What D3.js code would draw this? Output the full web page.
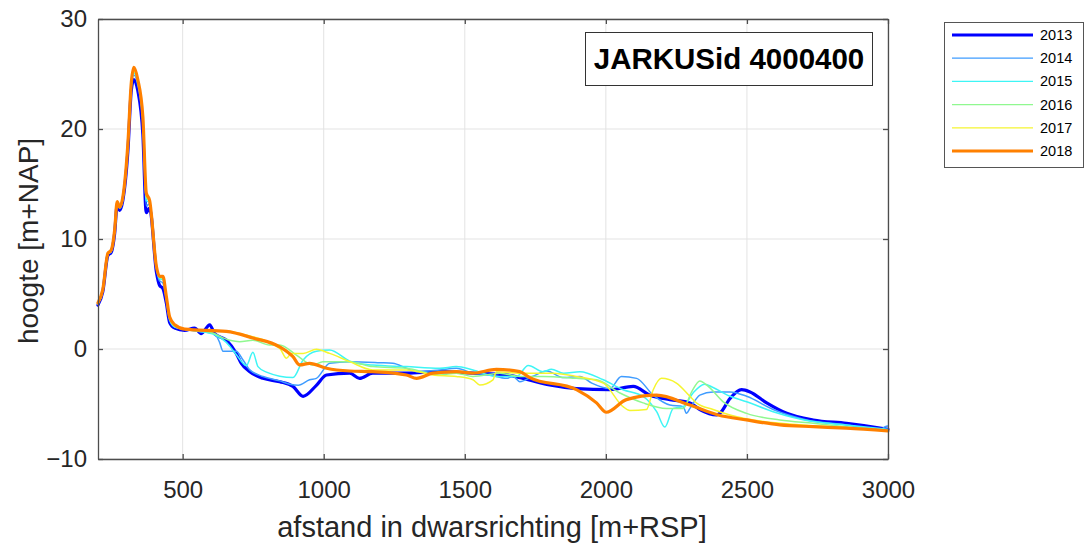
<!DOCTYPE html>
<html>
<head>
<meta charset="utf-8">
<style>
 body { margin: 0; background: #fff; }
 svg { font-family: "Liberation Sans", Arial, sans-serif; }
 .grid line { stroke: #e3e3e3; stroke-width: 1px; }
 .tick text { fill: #262626; }
</style>
</head>
<body>
<svg width="1089" height="548"></svg>
<script src="https://d3js.org/d3.v7.min.js"></script>
<script>

var years = ["2013", "2014", "2015", "2016", "2017", "2018"];
var colors = ["#0000ff", "#3f9cff", "#3ef5f5", "#90f890", "#f5f530", "#ff8000"];
var widths = [3.2, 1.5, 1.5, 1.5, 1.5, 3.2];

var xTicks = [500, 1000, 1500, 2000, 2500, 3000];
var yTicks = [-10, 0, 10, 20, 30];

// dune part (nearly equal for all years)
var duneX = [200, 217, 235, 247, 259, 268, 277, 288, 306, 318, 327, 341, 359, 371, 383, 407, 418, 430, 442, 454, 472, 507];

var x2013 = duneX.concat([542, 566, 596, 613, 655, 690, 708, 738, 785, 844, 891, 927, 974, 1010, 1092, 1127, 1174, 1293, 1411, 1529, 1648, 1707, 1801, 1896, 2014, 2097, 2156, 2227, 2298, 2333, 2393, 2404, 2440, 2481, 2511, 2570, 2641, 2735, 2853, 3000]);
var y2013 = [4.0, 5.2, 8.5, 8.8, 10.5, 13.1, 12.6, 13.5, 18.0, 23.5, 24.5, 23.5, 19.5, 12.4, 12.8, 7.0, 5.8, 5.5, 4.2, 2.4, 1.9, 1.7,
  1.9, 1.4, 2.2, 1.4, 0.8, -0.4, -1.3, -2.06, -2.67, -2.97, -3.4, -4.3, -3.3, -2.36, -2.2, -2.67, -2.2, -2.2, -2.06, -2.2, -2.36, -2.67, -3.27, -3.6, -3.7, -3.4, -4.2, -4.6, -4.9, -5.5, -6.0, -5.85, -4.5, -3.7, -3.9, -4.9, -5.85, -6.45, -6.75, -7.3];

var x2014 = duneX.concat([560, 613, 631, 643, 690, 714, 738, 785, 844, 880, 910, 950, 974, 1021, 1092, 1198, 1245, 1293, 1329, 1411, 1470, 1529, 1588, 1648, 1671, 1695, 1740, 1790, 1850, 1908, 1950, 2014, 2055, 2109, 2168, 2227, 2274, 2286, 2298, 2333, 2380, 2440, 2499, 2593, 2712, 2853, 2971, 2990, 3000]);
var y2014 = [4.1, 5.3, 8.6, 8.9, 10.7, 13.2, 12.8, 13.6, 18.4, 23.8, 24.9, 24.0, 20.5, 13.0, 13.2, 7.3, 6.2, 6.0, 4.5, 2.6, 2.0, 1.8,
  1.6, 1.4, 0.6, -0.2, -0.2, -1.0, -1.9, -2.5, -2.9, -3.2, -3.3, -2.8, -2.67, -1.3, -1.15, -1.24, -1.3, -1.75, -2.06, -1.9, -1.75, -2.2, -2.36, -2.67, -2.5, -2.97, -2.5, -2.0, -2.6, -2.5, -3.1, -3.6, -2.5, -2.67, -4.2, -5.1, -5.24, -5.85, -5.4, -4.2, -3.9, -3.9, -4.3, -5.5, -6.45, -6.9, -7.36, -7.06, -7.0];

var x2015 = duneX.concat([560, 613, 655, 690, 726, 749, 767, 797, 891, 927, 974, 1021, 1092, 1116, 1174, 1293, 1411, 1470, 1529, 1612, 1683, 1725, 1778, 1807, 1850, 1908, 1991, 2061, 2132, 2180, 2209, 2239, 2274, 2309, 2350, 2380, 2440, 2499, 2593, 2735, 2853, 3000]);
var y2015 = [4.1, 5.3, 8.6, 8.9, 10.7, 13.2, 12.8, 13.6, 18.5, 24.0, 25.1, 24.2, 20.8, 13.5, 13.3, 7.4, 6.4, 6.3, 4.6, 2.7, 2.0, 1.8,
  1.6, 1.3, 0.6, -0.5, -1.5, -0.3, -1.6, -2.1, -2.6, -1.0, -0.2, -0.1, -1.1, -1.3, -1.45, -1.6, -1.75, -1.6, -1.9, -2.5, -2.5, -1.5, -2.06, -1.85, -2.2, -2.06, -2.8, -3.7, -4.3, -5.7, -7.1, -5.4, -5.24, -4.0, -3.2, -3.5, -4.3, -4.8, -5.7, -6.6, -6.9, -7.3];

var x2016 = duneX.concat([600, 667, 702, 749, 808, 844, 903, 962, 997, 1092, 1174, 1293, 1411, 1470, 1529, 1624, 1695, 1778, 1896, 1967, 2050, 2132, 2215, 2274, 2304, 2333, 2363, 2416, 2499, 2617, 2735, 2853, 3000]);
var y2016 = [4.1, 5.3, 8.6, 8.9, 10.7, 13.3, 12.9, 13.7, 18.6, 24.1, 25.2, 24.3, 21.0, 13.8, 13.4, 7.5, 6.5, 6.4, 4.7, 2.8, 2.1, 1.8,
  1.5, 0.8, 0.67, 0.8, 0.36, 0.36, -0.55, -1.45, -1.15, -1.15, -1.6, -1.75, -2.36, -2.2, -2.5, -2.2, -2.5, -2.5, -2.67, -2.8, -4.0, -4.9, -5.4, -5.4, -3.9, -2.9, -3.4, -4.8, -5.85, -6.45, -6.75, -7.06, -7.4];

var x2017 = duneX.concat([600, 667, 702, 844, 868, 885, 927, 974, 1021, 1092, 1174, 1293, 1387, 1470, 1529, 1553, 1600, 1612, 1695, 1730, 1813, 1896, 1991, 2061, 2085, 2144, 2168, 2197, 2250, 2298, 2321, 2380, 2440, 2558, 2700, 2853, 3000]);
var y2017 = [4.1, 5.3, 8.6, 8.9, 10.7, 13.3, 12.9, 13.7, 18.6, 24.1, 25.3, 24.4, 21.0, 14.0, 13.4, 7.5, 6.6, 6.5, 4.8, 2.8, 2.1, 1.8,
  1.7, 1.6, 1.4, 0.06, -0.85, -0.4, -0.4, -0.03, -0.4, -1.15, -1.9, -1.9, -2.36, -2.5, -2.8, -3.27, -2.8, -2.06, -2.2, -2.2, -2.2, -2.5, -3.1, -5.24, -5.6, -5.5, -3.7, -2.67, -3.1, -4.3, -4.9, -5.5, -6.0, -6.6, -6.9, -7.15, -7.45];

var x2018 = duneX.concat([655, 749, 844, 891, 915, 950, 1010, 1092, 1174, 1293, 1329, 1387, 1470, 1529, 1612, 1695, 1730, 1896, 1967, 2002, 2073, 2180, 2298, 2398, 2499, 2617, 2735, 2853, 3000]);
var y2018 = [4.2, 5.4, 8.7, 9.0, 10.8, 13.4, 12.9, 13.8, 18.7, 24.2, 25.6, 24.5, 21.1, 14.2, 13.5, 7.5, 6.6, 6.6, 4.8, 2.9, 2.2, 1.8,
  1.6, 1.0, 0.2, -0.7, -1.45, -1.3, -1.75, -2.0, -2.06, -2.36, -2.67, -2.2, -2.06, -2.2, -1.85, -2.06, -2.6, -3.7, -4.9, -5.75, -4.6, -4.2, -5.1, -6.0, -6.45, -6.9, -7.06, -7.2, -7.45];

var xs = [x2013, x2014, x2015, x2016, x2017, x2018];
var ys = [y2013, y2014, y2015, y2016, y2017, y2018];

var svg = d3.select("svg"),
    margin = {top: 19, right: 201, bottom: 89, left: 98},
    width = +svg.attr("width") - margin.left - margin.right,
    height = +svg.attr("height") - margin.top - margin.bottom,
    g = svg.append("g").attr("transform", "translate(" + margin.left + "," + margin.top + ")");

var x = d3.scaleLinear().domain([200, 3000]).range([0, width]);
var y = d3.scaleLinear().domain([-10, 30]).range([height, 0]);

// grid
g.append("g").attr("class", "grid")
    .selectAll("line").data(xTicks).enter().append("line")
    .attr("x1", function(d){ return x(d); }).attr("x2", function(d){ return x(d); })
    .attr("y1", 0).attr("y2", height);
g.append("g").attr("class", "grid")
    .selectAll("line").data(yTicks).enter().append("line")
    .attr("y1", function(d){ return y(d); }).attr("y2", function(d){ return y(d); })
    .attr("x1", 0).attr("x2", width);

// profiles
var line = d3.line()
    .x(function(d){ return x(d[0]); })
    .y(function(d){ return y(d[1]); })
    .curve(d3.curveMonotoneX);

years.forEach(function(yr, i){
    var pts = xs[i].map(function(v, k){ return [v, ys[i][k]]; });
    g.append("path")
	.datum(pts)
	.attr("d", line)
	.attr("fill", "none")
	.attr("stroke", colors[i])
	.attr("stroke-width", widths[i])
	.attr("stroke-linejoin", "round")
	.attr("stroke-linecap", "round");
});

// axes (box with inward ticks)
var axisColor = "#4d4d4d";
var fmt = d3.format("d");
g.append("g")
    .attr("transform", "translate(0," + height + ")")
    .call(d3.axisBottom(x).tickValues(xTicks).tickFormat(fmt).tickSizeInner(-5).tickSizeOuter(0).tickPadding(22));
g.append("g")
    .call(d3.axisLeft(y).tickValues(yTicks).tickFormat(fmt).tickSizeInner(-5).tickSizeOuter(0).tickPadding(11));
g.append("g")
    .call(d3.axisTop(x).tickValues(xTicks).tickSizeInner(-5).tickSizeOuter(0).tickFormat(""));
g.append("g")
    .attr("transform", "translate(" + width + ",0)")
    .call(d3.axisRight(y).tickValues(yTicks).tickSizeInner(-5).tickSizeOuter(0).tickFormat(""));

g.selectAll(".domain").attr("stroke", axisColor).attr("stroke-width", 1.3);
g.selectAll(".tick line").attr("stroke", axisColor).attr("stroke-width", 1.3);
g.selectAll(".tick text").style("font-size", "24px");

// axis labels
svg.append("text")
    .attr("x", 492)
    .attr("y", 537)
    .attr("text-anchor", "middle")
    .style("font-size", "29px")
    .attr("fill", "#262626")
    .text("afstand in dwarsrichting [m+RSP]");
svg.append("text")
    .attr("transform", "translate(38," + (margin.top + height / 2 + 2) + ") rotate(-90)")
    .attr("text-anchor", "middle")
    .style("font-size", "28px")
    .attr("fill", "#262626")
    .text("hoogte [m+NAP]");

// id box
svg.append("rect")
    .attr("x", 585.5).attr("y", 32.5).attr("width", 287).attr("height", 53)
    .attr("fill", "#fff").attr("stroke", "#333").attr("stroke-width", 1);
svg.append("text")
    .attr("x", 729).attr("y", 69)
    .attr("text-anchor", "middle")
    .style("font-size", "29.5px").style("font-weight", "bold")
    .text("JARKUSid 4000400");

// legend
var leg = svg.append("g");
leg.append("rect")
    .attr("x", 944.5).attr("y", 22.5).attr("width", 139).attr("height", 145)
    .attr("fill", "#fff").attr("stroke", "#555").attr("stroke-width", 1);
years.forEach(function(yr, i){
    var yy = 35 + i * 23.2;
    leg.append("line")
	.attr("x1", 952).attr("x2", 1033).attr("y1", yy).attr("y2", yy)
	.attr("stroke", colors[i]).attr("stroke-width", widths[i] - 0.3);
    leg.append("text")
	.attr("x", 1040).attr("y", yy + 5)
	.style("font-size", "14.5px")
	.attr("fill", "#000")
	.text(yr);
});

</script>
</body>
</html>
